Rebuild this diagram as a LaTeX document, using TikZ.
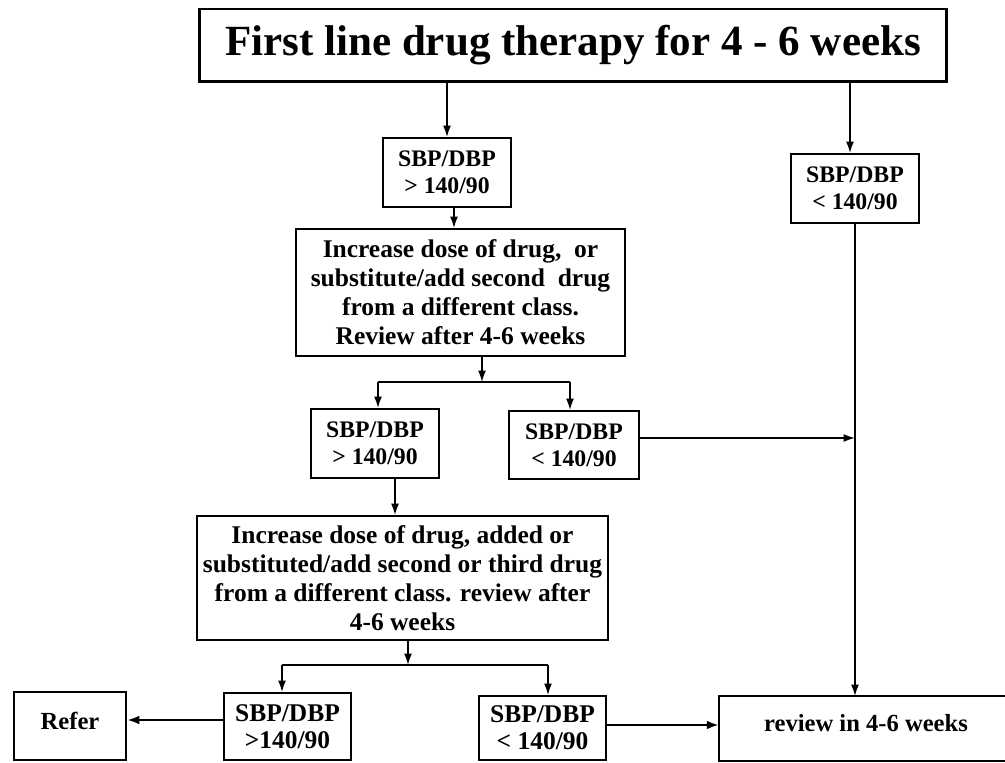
\documentclass[tikz,border=0pt]{standalone}
\usepackage{fontspec}
\setmainfont{Liberation Serif}
\usetikzlibrary{arrows.meta,calc}
\begin{document}
\begin{tikzpicture}[x=0.02cm,y=-0.02cm,
  box/.style={draw=black,line width=1.1pt,rectangle,inner sep=1pt,align=center,
    font=\fontsize{13.5}{15.5}\selectfont\bfseries},
  bigbox/.style={box,font=\fontsize{14.5}{16.5}\selectfont\bfseries},
  arr/.style={line width=0.9pt,-{Latex[length=6.5pt,width=4.5pt]}},
  ln/.style={line width=0.9pt},
  thickarr/.style={line width=1.6pt,-{Latex[length=7pt,width=5pt]}}]
\useasboundingbox (0,0) rectangle (1005,763);
\begin{scope}
\clip (0,0) rectangle (1005,763);
\fill[white] (0,0) rectangle (1005,763);

% nodes
\node[box,line width=1.7pt,minimum width=14.96cm,minimum height=1.46cm,
  font=\fontsize{24.5}{28}\selectfont\bfseries] (title) at (573,45.5)
  {First line drug therapy for 4 - 6 weeks};
\node[box,minimum width=2.56cm,minimum height=1.38cm] (s1) at (447,172.5)
  {SBP/DBP\\ \textgreater{} 140/90};
\node[box,minimum width=2.56cm,minimum height=1.38cm] (s1r) at (855,188.5)
  {SBP/DBP\\ \textless{} 140/90};
\node[bigbox,minimum width=6.58cm,minimum height=2.54cm] (b2) at (460.5,292.5)
  {Increase dose of drug,\ \ or\\ substitute/add second\ \ drug\\ from a different class.\\ Review after 4-6 weeks};
\node[box,minimum width=2.56cm,minimum height=1.38cm] (s3) at (375,443.5)
  {SBP/DBP\\ \textgreater{} 140/90};
\node[box,minimum width=2.6cm,minimum height=1.36cm] (s4) at (574,445)
  {SBP/DBP\\ \textless{} 140/90};
\node[bigbox,minimum width=8.22cm,minimum height=2.48cm] (b5) at (402.5,578)
  {Increase dose of drug, added or\\ substituted/add second or third drug\\ from a different class. review after\\ 4-6 weeks};
\node[box,minimum width=2.54cm,minimum height=1.34cm,font=\fontsize{14.5}{15.5}\selectfont\bfseries] (s6) at (287.5,726.5)
  {SBP/DBP\\ \textgreater140/90};
\node[box,minimum width=2.54cm,minimum height=1.28cm,font=\fontsize{14.5}{15.5}\selectfont\bfseries] (s7) at (542.5,728)
  {SBP/DBP\\ \textless{} 140/90};
\node[box,minimum width=2.24cm,minimum height=1.36cm,font=\fontsize{14}{16}\selectfont\bfseries] (refer) at (70,726)
  {\raisebox{6pt}{Refer}};
\node[box,draw=none,minimum width=7.0cm,minimum height=1.26cm,font=\fontsize{14}{16}\selectfont\bfseries] (review) at (895,728.5)
  {\hspace*{-1.16cm}\raisebox{6pt}{review in 4-6 weeks}};
\draw[line width=1.1pt] (review.north east) -- (review.north west) -- (review.south west) -- (review.south east);

% junction coordinates
\coordinate (j1) at (482,382);
\coordinate (j1l) at (378,382);
\coordinate (j1r) at (570,382);
\coordinate (j2) at (408,665);
\coordinate (j2l) at (282,665);
\coordinate (j2r) at (548,665);

% connectors
\draw[arr] (s1.north |- title.south) -- (s1.north);
\draw[arr] ([xshift=-0.1cm]s1r.north |- title.south) -- ([xshift=-0.1cm]s1r.north);
\draw[arr] ([xshift=0.14cm]s1.south) -- ([xshift=0.14cm]s1.south |- b2.north);
\draw[arr] (j1 |- b2.south) -- (j1);
\draw[ln] (j1l) -- (j1r);
\draw[arr] (j1l) -- (j1l |- s3.north);
\draw[arr] (j1r) -- (j1r |- s4.north);
\draw[arr] ([yshift=0.14cm]s4.east) -- ([yshift=0.14cm]s4.east -| s1r.south);
\draw[arr] (s1r.south) -- (s1r.south |- review.north);
\draw[arr] ([xshift=0.4cm]s3.south) -- ([xshift=0.4cm]s3.south |- b5.north);
\draw[arr] (j2 |- b5.south) -- (j2);
\draw[ln] (j2l) -- (j2r);
\draw[arr] (j2l) -- (j2l |- s6.north);
\draw[arr] (j2r) -- (j2r |- s7.north);
\draw[thickarr] ([yshift=0.13cm]s6.west) -- ([yshift=0.13cm]s6.west -| refer.east);
\draw[thickarr] ([yshift=0.06cm]s7.east) -- ([yshift=0.06cm]s7.east -| review.west);
\end{scope}
\end{tikzpicture}
\end{document}
